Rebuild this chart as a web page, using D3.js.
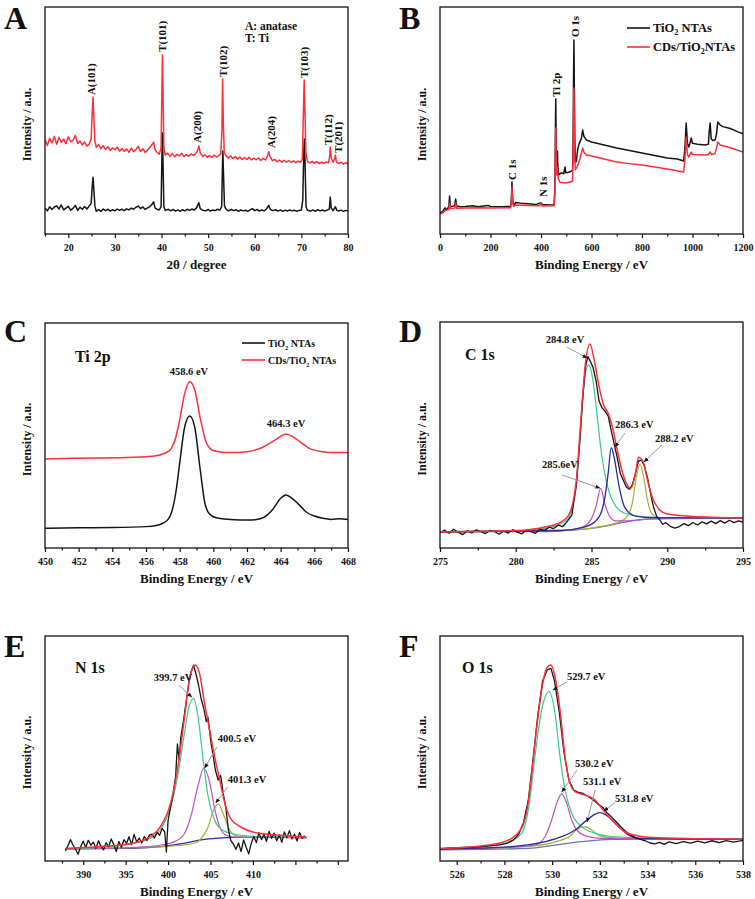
<!DOCTYPE html>
<html><head><meta charset="utf-8">
<script src="https://cdn.jsdelivr.net/npm/d3@7"></script>
<style>
body{margin:0;background:#fff}
svg{display:block}
text{font-family:"Liberation Serif","Times New Roman",serif;font-weight:bold;fill:#111}
</style>
</head><body>
<svg id="c" width="755" height="899"></svg>
<script>
// ===== Panel A: XRD =====
const xrdTicks = [20,30,40,50,60,70,80];
const xrdMinor = [15,25,35,45,55,65,75];
const xrdTiO2 = [[15,11.5],[15.5,10.2],[16,12.0],[16.5,10.8],[17,11.9],[17.5,12.4],[18,11.0],[18.5,12.8],[19,10.6],[19.5,11.4],[20,12.2],[20.5,10.5],[21,11.3],[21.5,12.6],[22,10.4],[22.5,11.8],[23,10.9],[23.5,12.1],[24,11.0],[24.5,12.4],[24.9,13.5],[25.1,20],[25.3,25],[25.5,19],[25.7,12.5],[26,10.0],[26.5,10.8],[27,9.9],[27.5,11.0],[28,10.3],[28.5,10.9],[29,10.1],[29.5,10.7],[30,10.2],[30.5,11.0],[31,10.4],[31.5,10.9],[32,10.3],[32.5,11.1],[33,10.6],[33.5,11.4],[34,10.9],[34.5,11.8],[35,12.3],[35.5,11.2],[36,11.9],[36.5,10.8],[37,11.5],[37.5,12.1],[38,13.2],[38.3,14.2],[38.6,11.5],[39,10.9],[39.5,10.6],[39.9,12],[40.05,30],[40.2,44.5],[40.35,28],[40.5,12],[40.8,10.4],[41.5,10.9],[42,10.2],[42.5,10.8],[43,10.1],[43.5,10.6],[44,10.0],[44.5,10.7],[45,10.2],[45.5,10.9],[46,10.4],[46.5,11.0],[47,10.6],[47.5,11.5],[48,13.8],[48.3,11.2],[48.8,10.5],[49.5,10.2],[50,10.8],[50.5,10.1],[51,10.6],[51.5,10.3],[52,10.9],[52.5,10.5],[52.9,12],[53.05,28],[53.15,36.6],[53.3,26],[53.5,12.5],[53.8,11.0],[54.3,10.2],[55,10.8],[55.5,10.3],[56,10.7],[56.5,10.0],[57,10.6],[57.5,10.2],[58,10.5],[58.5,10.0],[59,10.6],[59.5,11.2],[60,10.3],[60.5,10.8],[61,10.1],[61.5,10.6],[62,10.2],[62.5,11.0],[63,12.6],[63.3,11.0],[63.8,10.3],[64.5,10.7],[65,10.1],[65.5,10.6],[66,10.0],[66.5,10.5],[67,10.1],[67.5,10.6],[68,10.2],[68.5,10.5],[69,10.0],[69.5,10.4],[70,10.6],[70.3,15],[70.5,35],[70.65,41.9],[70.8,30],[71.0,12],[71.3,10.5],[72,10.1],[72.5,10.6],[73,10.0],[73.5,10.7],[74,10.2],[74.5,10.6],[75,10.1],[75.5,10.5],[76,11],[76.2,16.3],[76.4,11.5],[76.8,10.3],[77.3,12.0],[77.6,10.4],[78,10.1],[78.5,10.5],[79,10.0],[79.5,10.4],[80,10.1]];
const xrdCDs = [[15,41.5],[15.5,39.0],[16,42.2],[16.5,40.1],[17,43.0],[17.5,39.5],[18,42.6],[18.5,40.4],[19,41.8],[19.5,39.8],[20,42.8],[20.5,40.6],[21,41.2],[21.5,43.4],[22,39.9],[22.5,41.0],[23,39.2],[23.5,40.5],[24,38.7],[24.5,39.6],[24.9,42],[25.1,52],[25.3,60.4],[25.5,50],[25.7,41],[26,38.2],[26.5,39.4],[27,37.6],[27.5,38.9],[28,37.2],[28.5,38.5],[29,36.8],[29.5,38.0],[30,37.1],[30.5,38.3],[31,36.5],[31.5,37.7],[32,36.4],[32.5,37.5],[33,36.0],[33.5,37.8],[34,36.3],[34.5,37.2],[35,38.6],[35.5,36.4],[36,37.5],[36.5,35.9],[37,37.0],[37.5,38.2],[38,39.5],[38.3,40.5],[38.6,37.4],[39,36.0],[39.5,35.2],[39.9,38],[40.05,60],[40.2,78.9],[40.35,58],[40.5,38],[40.8,34.8],[41.3,35.7],[41.8,34.2],[42.3,35.4],[42.8,34.0],[43.3,35.1],[43.8,34.4],[44.3,35.6],[44.8,34.1],[45.3,35.0],[45.8,34.3],[46.3,35.2],[46.8,34.6],[47.3,35.3],[47.7,36.5],[48,38.8],[48.3,35.8],[48.8,34.2],[49.3,34.9],[49.8,33.8],[50.3,34.6],[50.8,33.7],[51.3,34.8],[51.8,33.9],[52.3,34.5],[52.7,35.5],[52.95,45],[53.1,68.3],[53.25,50],[53.45,36],[53.8,34.6],[54.3,33.4],[54.8,34.5],[55.3,33.2],[55.8,34.1],[56.3,33.0],[56.8,33.9],[57.3,32.8],[57.8,33.7],[58.3,32.9],[58.8,33.8],[59.3,32.6],[59.8,33.4],[60.3,32.7],[60.8,33.5],[61.3,32.4],[61.8,33.3],[62.3,32.6],[62.7,34.2],[63,36.2],[63.3,34.0],[63.8,32.3],[64.3,32.9],[64.8,31.8],[65.3,32.6],[65.8,31.7],[66.3,32.5],[66.8,31.6],[67.3,32.4],[67.8,31.5],[68.3,32.2],[68.8,31.4],[69.3,32.1],[69.8,31.6],[70.2,33],[70.45,55],[70.6,67.8],[70.75,56],[70.95,36],[71.3,32.0],[71.8,31.3],[72.3,32.0],[72.8,31.2],[73.3,31.9],[73.8,31.0],[74.3,31.7],[74.8,31.1],[75.3,31.8],[75.8,31.3],[76.05,34],[76.2,38.3],[76.4,33.5],[76.8,31.6],[77.1,33],[77.3,34.8],[77.5,31.8],[78,31.0],[78.5,31.6],[79,30.8],[79.5,31.4],[80,30.9]];
const xrdLabels = [["A(101)",24.9,61.2],["T(101)",40.1,80.2],["A(200)",47.6,40.1],["T(102)",53.2,69.2],["A(204)",63.5,37.9],["T(103)",70.6,68.7],["T(112)",75.7,39.2],["T(201)",77.9,35.7]];

// ===== Panel B: XPS survey =====
const surveyTicks = [0,200,400,600,800,1000,1200];
const surveyMinor = [100,300,500,700,900,1100];
const surveyTiO2 = [[0,9.5],[10,9.8],[20,11.5],[25,10.5],[35,12],[38,16.7],[41,12],[50,12.2],[58,12.5],[62,15.4],[66,12.3],[80,12.0],[100,12.1],[130,12.4],[150,12.0],[190,12.6],[200,12.1],[250,12.0],[280,12.2],[283,16],[285,22.9],[288,15],[292,12.4],[300,13.9],[320,13.6],[350,13.3],[380,13.0],[400,13.8],[405,13.0],[430,12.8],[452,12.9],[455,20],[457,45],[458.5,59.5],[460,40],[461,30],[463,28],[465,36.6],[467,29],[470,26],[480,27],[490,26.5],[495,29.5],[498,27],[510,27.2],[525,28],[527,40],[529,70],[530.5,85.5],[532,65],[534,42],[536,31.7],[540,32],[545,37],[550,39.5],[560,42],[565,45.8],[570,43],[580,41.4],[600,40.5],[650,39.2],[700,37.9],[750,36.8],[800,35.7],[850,34.6],[900,33.5],[940,33.0],[965,32.2],[970,38],[975,48.9],[980,40],[985,38.3],[990,40],[995,42.3],[1000,40],[1020,39.5],[1050,39.2],[1063,39.6],[1066,45],[1070,48.9],[1074,42],[1080,41.2],[1090,41.5],[1095,44],[1100,49.3],[1110,48],[1120,47.3],[1150,46.5],[1180,45],[1200,44.1]];
const surveyCDs = [[0,8.8],[10,9.2],[20,10.3],[35,10.8],[38,13.5],[41,11.2],[58,11.4],[62,13.7],[66,11.3],[100,11.5],[150,11.6],[200,11.4],[280,11.6],[283,15],[285,20.7],[288,13.5],[292,12.2],[300,12.8],[350,12.6],[395,12.4],[400,13.7],[405,12.3],[452,12.4],[455,18],[457,36],[458.5,46.7],[460,33],[462,26],[465,29.5],[468,24.5],[475,22.8],[500,22.5],[525,23.2],[527,35],[529,55],[530.5,64.3],[532,50],[534,33],[536,28.2],[545,30],[555,33.5],[565,37.9],[570,36],[580,34.8],[600,34.4],[650,33.0],[700,31.7],[750,31.0],[800,30.4],[850,29.5],[900,28.6],[965,27.3],[970,33],[975,42.7],[980,35],[985,33.9],[995,36.1],[1000,35],[1050,34.8],[1063,35],[1070,36.1],[1076,35],[1090,35.5],[1100,40.5],[1110,39.2],[1150,38],[1200,36.1]];
const surveyLabels = [["C 1s",285.1,23.8],["N 1s",407.9,16.3],["Ti 2p",459.4,60.3],["O 1s",534.7,86.8]];

// ===== Panel C: Ti 2p =====
const ti2pTicks = [450,452,454,456,458,460,462,464,466,468];
const ti2pMinor = [451,453,455,457,459,461,463,465,467];
const ti2pTiO2 = [[450,8.8],[452,9.0],[454,9.1],[456,9.5],[456.6,10.0],[457,11],[457.3,12.6],[457.5,15.4],[457.8,26],[458,37.6],[458.3,53.9],[458.6,58.7],[458.9,53.5],[459.2,36.1],[459.5,19.9],[459.7,15.8],[460,13.9],[460.5,13.0],[461,12.7],[462,12.4],[462.5,12.6],[463,13.6],[463.5,16.9],[464,22.1],[464.3,23.6],[464.8,21.3],[465.2,18.4],[465.5,16.1],[466,14.2],[466.5,13.2],[467,12.7],[467.5,13.0],[468,12.7]];
const ti2pCDs = [[450,39.6],[452,39.9],[454,40.1],[456,40.6],[456.6,41.0],[457,41.8],[457.3,42.8],[457.5,44.3],[457.8,50],[458,56.9],[458.3,68.7],[458.6,73.9],[458.9,70.2],[459.2,58.4],[459.6,46.5],[460,43.3],[460.5,42.6],[461,42.4],[462,42.8],[462.5,43.6],[463,45],[463.5,47.2],[464,49.6],[464.3,50.7],[464.7,49.6],[465,48],[465.4,45.8],[465.7,44.3],[466.5,42.8],[467.2,42.4],[468,42.5]];

// ===== Panel D: C 1s =====
const c1sTicks = [275,280,285,290,295];
const c1sMinor = [277.5,282.5,287.5,292.5];
const c1sRaw = [[275,6.8],[275.3,7.9],[275.6,6.5],[275.9,8.3],[276.2,7.0],[276.5,5.9],[276.8,7.6],[277.1,6.7],[277.4,8.0],[277.7,7.2],[278,6.4],[278.3,7.8],[278.6,7.3],[278.9,6.1],[279.2,7.5],[279.5,6.6],[279.8,8.1],[280.1,7.0],[280.4,6.3],[280.7,7.9],[281,7.2],[281.3,6.5],[281.6,8.4],[281.9,7.8],[282.2,9.2],[282.5,8.6],[282.8,10.1],[283.1,9.5],[283.4,11.8],[283.7,14.5],[284.0,28],[284.2,45],[284.4,65],[284.6,80],[284.75,84.7],[284.9,83],[285.1,80],[285.3,74],[285.5,65],[285.7,62],[285.9,60.5],[286.1,58.5],[286.3,52],[286.5,46],[286.7,40],[286.9,33],[287.1,30],[287.3,27],[287.5,26],[287.7,28],[287.9,33],[288.1,38.5],[288.3,38.9],[288.5,36],[288.7,31],[288.9,24],[289.1,18],[289.3,14],[289.5,12.5],[289.7,10.5],[289.9,11.2],[290.2,9.6],[290.5,8.8],[290.8,9.5],[291.1,10.8],[291.4,9.9],[291.7,11.3],[292,10.2],[292.3,11.6],[292.6,10.7],[292.9,11.9],[293.2,10.8],[293.5,12.1],[293.8,11.0],[294.1,12.3],[294.4,11.2],[294.7,12.0],[295,11.5]];
const c1sEnvelope = [[275,7.2],[280,7.7],[282,9.4],[283,11.6],[283.5,14.6],[284,30],[284.3,56.6],[284.6,81.7],[284.9,90.3],[285.2,82.4],[285.5,71.4],[285.8,63.3],[286.1,59.6],[286.4,53],[286.7,43.4],[287,34.5],[287.3,28.6],[287.6,26.4],[287.9,33],[288.1,40.1],[288.4,38.2],[288.7,30],[289,22.7],[289.5,16.8],[290,15],[292,13.8],[295,13.3]];
const c1sPeak1 = [[275,7.2],[280,7.6],[282,8.8],[283,10.8],[283.5,13.5],[284,28],[284.3,53],[284.55,75],[284.8,81],[285.05,76],[285.3,63],[285.6,45],[285.9,32],[286.2,24],[286.6,18.5],[287,16],[287.6,14.6],[288.5,13.8],[290,13.4],[295,13.2]];
const c1sPeak2 = [[275,7.2],[283,7.7],[284,8.5],[284.6,10],[285,13],[285.3,18.5],[285.6,26.4],[285.9,19],[286.2,14],[286.6,12],[287.2,12],[288,12.4],[289,12.9],[295,13.2]];
const c1sPeak3 = [[275,7.2],[283,7.7],[284.5,9.2],[285.2,11.5],[285.6,15],[285.9,23],[286.1,33],[286.3,44.4],[286.5,40],[286.8,28],[287.1,19.5],[287.5,15.5],[288,14],[289,13.4],[295,13.2]];
const c1sPeak4 = [[275,7.2],[284,8.2],[286,10],[287,12],[287.4,14.5],[287.7,20],[287.95,31],[288.2,37],[288.45,31],[288.7,21],[289,15],[289.4,13.5],[290,13.2],[295,13.2]];
const c1sBackground = [[275,7.2],[282,7.3],[283,7.6],[284,8.0],[285,8.7],[286,9.8],[287,11.2],[288,12.3],[289,12.9],[290,13.1],[295,13.2]];
// [label, textX, textY, arrowFromX, arrowFromY, arrowToX, arrowToY, anchor]
const c1sLabels = [["284.8 eV",283.25,90.7,283.38,88.9,284.7,84.1,"middle"],["286.3 eV",286.55,53.1,287.21,50.9,286.55,44.7,"start"],["288.2 eV",289.19,46.9,289.65,45.6,288.47,38.1,"start"],["285.6eV",281.73,35.4,283.05,32.3,285.56,26.5,"start"]];

// ===== Panel E: N 1s =====
const n1sTicks = [390,395,400,405,410,415,420];
const n1sMinor = [387.5,392.5,397.5,402.5,407.5,412.5,417.5];
const n1sRaw = [[387.9,4.5],[388.2,6.8],[388.5,9.5],[388.8,7.1],[389.1,5.2],[389.4,3.0],[389.7,6.4],[390.0,8.8],[390.3,6.0],[390.6,9.2],[390.9,7.0],[391.2,8.4],[391.5,5.6],[391.8,9.0],[392.1,6.5],[392.4,5.0],[392.7,8.1],[393.0,6.3],[393.3,9.8],[393.6,7.4],[393.9,4.2],[394.2,8.7],[394.5,6.1],[394.8,9.5],[395.1,7.8],[395.4,10.8],[395.7,7.3],[396.0,11.8],[396.3,8.5],[396.6,10.2],[396.9,8.0],[397.2,10.9],[397.5,9.1],[397.8,11.5],[398.1,12.0],[398.4,10.2],[398.7,12.8],[399.0,11.4],[399.3,14.5],[399.6,13],[399.8,4.0],[400.0,18],[400.3,24],[400.6,30],[400.9,38],[401.1,52],[401.3,45],[401.5,55],[401.8,62],[402.1,70],[402.4,78],[402.7,84],[403.0,87],[403.3,83],[403.6,78],[403.9,72],[404.2,68],[404.5,62],[404.7,64],[405.0,54],[405.3,47],[405.6,40],[405.9,36],[406.2,38],[406.5,30],[406.8,24],[407.1,14],[407.4,9],[407.7,7.5],[408.0,5.2],[408.3,8.0],[408.6,4.2],[408.9,9.4],[409.2,6.1],[409.5,3.2],[409.8,7.8],[410.1,10.9],[410.4,8.2],[410.7,12.6],[411.0,9.5],[411.3,11.8],[411.6,8.7],[411.9,13.2],[412.2,10.1],[412.5,12.4],[412.8,9.0],[413.1,11.6],[413.4,8.3],[413.7,12.9],[414.0,10.4],[414.3,13.5],[414.6,9.8],[414.9,11.9],[415.2,8.9],[415.5,12.7],[415.8,10.0],[416.1,11.3]];
const n1sEnvelope = [[387.9,5.6],[392,6.4],[395.9,7.9],[397.9,10.8],[399.1,15.3],[400.3,25.7],[401.1,40.4],[401.9,62.7],[402.5,80.4],[403.2,87.1],[403.7,83.4],[404.3,70],[404.9,58.1],[405.5,46.2],[406.1,35.8],[406.7,25.4],[407.4,18.7],[408.6,15],[410.2,12.7],[413.7,11.3],[416.3,10.5]];
const n1sPeak1 = [[387.9,5.3],[395,7.3],[397.9,10],[399.1,14],[400.3,24],[401.1,37],[401.9,56],[402.5,69],[403.0,72.3],[403.5,65],[404.1,46],[404.7,29],[405.5,18],[406.3,14],[407.8,12],[410.2,11],[416.3,10.5]];
const n1sPeak2 = [[387.9,5.4],[396,6],[399,7],[400.7,8.5],[401.9,12],[402.7,20],[403.5,33],[404.2,41.2],[404.9,35],[405.5,23],[406.1,15],[406.7,11.8],[407.8,10.6],[416.3,10.3]];
const n1sPeak3 = [[387.9,5.4],[400,6.5],[403.2,8],[403.9,10],[404.7,15],[405.3,22],[405.9,25.4],[406.5,21],[407.1,15],[407.8,11.5],[409,10.6],[416.3,10.4]];
const n1sBackground = [[387.9,5.4],[397,5.8],[400,6.8],[402.3,8.2],[403.9,9.4],[405.9,10.2],[407.8,10.5],[416.3,10.5]];
const n1sLabels = [["399.7 eV",398.32,80,401.26,78.2,402.79,72.9,"start"],["400.5 eV",405.85,52.9,405.74,50.7,404.32,41.3,"start"],["401.3 eV",407.03,34.7,407.03,32.9,405.62,25.8,"start"]];

// ===== Panel F: O 1s =====
const o1sTicks = [526,528,530,532,534,536,538];
const o1sMinor = [527,529,531,533,535,537];
const o1sRaw = [[525.3,5.4],[525.8,5.8],[526.3,6.0],[526.8,6.2],[527.3,6.6],[527.8,7.2],[528.1,7.8],[528.4,9.5],[528.6,12],[528.8,17],[529.0,27],[529.2,45],[529.4,65],[529.6,80],[529.8,85],[529.95,85.6],[530.1,80],[530.3,66],[530.5,48],[530.7,36],[530.9,31.5],[531.1,30.5],[531.3,30],[531.5,28.8],[531.7,27.3],[531.9,25.5],[532.1,24],[532.3,21.5],[532.5,19.5],[532.7,17.2],[532.9,15],[533.1,13],[533.3,11.5],[533.5,10.4],[533.7,9.6],[533.9,9.0],[534.1,8.0],[534.3,7.6],[534.5,8.3],[534.7,7.4],[534.9,8.5],[535.2,7.7],[535.5,8.6],[535.8,7.9],[536.1,8.8],[536.4,8.1],[536.7,9.0],[537.0,8.2],[537.3,9.1],[537.6,8.4],[538,9.2]];
const o1sEnvelope = [[525.3,5.6],[527,6.7],[528,8.6],[528.72,14.5],[529.0,26],[529.28,52.3],[529.56,76],[529.77,85.6],[529.95,87.1],[530.12,81.9],[530.33,67.1],[530.54,46.4],[530.75,34.5],[530.96,30.8],[531.38,29.3],[531.8,27.1],[532.08,23.4],[532.5,18.2],[533.05,13],[533.61,11.1],[534.17,10.4],[536,9.9],[538,9.7]];
const o1sPeak1 = [[525.3,5.6],[527,6.4],[528,7.9],[528.72,12.3],[529.0,22.7],[529.28,46.4],[529.56,67.1],[529.87,75.3],[530.12,65.6],[530.33,46.4],[530.54,31.6],[530.82,21.2],[531.24,15.3],[531.8,12.3],[532.5,10.9],[534.17,10.1],[538,9.7]];
const o1sPeak2 = [[525.3,5.2],[528.3,6.1],[529.28,7.1],[529.7,10.8],[529.98,18.2],[530.19,25.6],[530.4,29.8],[530.61,25.6],[530.82,18.2],[531.1,13],[531.52,10.8],[532.08,10.1],[538,9.8]];
const o1sPeak3 = [[525.3,5.2],[529,6.5],[530.68,10.5],[531.03,14],[531.38,15.3],[531.73,13.2],[532.08,10.8],[533,10],[538,9.8]];
const o1sPeak4 = [[525.3,5.2],[528.3,6.4],[529.7,8.6],[530.4,10.8],[530.96,13.8],[531.38,17.5],[531.73,20.4],[532.0,21.5],[532.36,19.7],[532.78,15.3],[533.2,11.6],[533.61,10.1],[538,9.6]];
const o1sBackground = [[525.3,4.9],[529.0,5.6],[530.12,7.1],[531.24,8.6],[532.5,9.6],[538,9.9]];
const o1sLabels = [["529.7 eV",530.62,80.4,530.62,79.6,530.04,76,"start"],["530.2 eV",530.96,41.8,531.04,40.4,530.41,30.7,"start"],["531.1 eV",531.29,33.8,531.8,31.6,531.46,17.3,"start"],["531.8 eV",532.63,26.2,532.63,25.8,532.17,22.2,"start"]];

// ===== colours =====
const C_BLACK = "#151515", C_RED = "#ff2e3a", C_GREEN = "#36cc8c", C_MAG = "#c24fc6", C_BLUE = "#2a2a9c", C_OLIVE = "#a3b336", C_BG = "#6f72ad";

const svg = d3.select("#c");
const defs = svg.append("defs");
defs.append("marker").attr("id","ah").attr("viewBox","0 0 10 10").attr("refX",9).attr("refY",5)
  .attr("markerWidth",5).attr("markerHeight",5).attr("orient","auto")
  .append("path").attr("d","M0,1L10,5L0,9z").attr("fill","#111");

function panel(cfg){
  const [bx0,bx1,by0,by1] = cfg.box;
  const x = d3.scaleLinear().domain(cfg.xDomain).range([bx0,bx1]);
  const y = d3.scaleLinear().domain([0,100]).range([by1,by0]);
  const g = svg.append("g");
  const cid = "clip"+cfg.letter;
  defs.append("clipPath").attr("id",cid).append("rect").attr("x",bx0).attr("y",by0).attr("width",bx1-bx0).attr("height",by1-by0);
  const plot = g.append("g").attr("clip-path",`url(#${cid})`);
  cfg.series.forEach(s=>{
    plot.append("path").datum(s.data).attr("fill","none").attr("stroke",s.color)
      .attr("stroke-width",s.w||1.3).attr("stroke-linejoin","round")
      .attr("d", d3.line().x(d=>x(d[0])).y(d=>y(d[1])).curve(s.smooth?d3.curveMonotoneX:d3.curveLinear));
  });
  const fmt = cfg.fmt || (v=>String(v));
  const axg = g.append("g").attr("transform",`translate(0,${by1})`)
    .call(d3.axisBottom(x).tickValues(cfg.ticks).tickFormat(fmt).tickSizeInner(4).tickSizeOuter(0).tickPadding(6));
  axg.select(".domain").remove();
  axg.selectAll("line").attr("stroke","#111").attr("stroke-width",1.2);
  axg.selectAll("text").attr("font-size",10).attr("fill","#111");
  const mig = g.append("g").attr("transform",`translate(0,${by1})`)
    .call(d3.axisBottom(x).tickValues(cfg.minor).tickFormat("").tickSizeInner(2.5).tickSizeOuter(0));
  mig.select(".domain").remove();
  mig.selectAll("line").attr("stroke","#111").attr("stroke-width",1.2);
  g.append("rect").attr("x",bx0).attr("y",by0).attr("width",bx1-bx0).attr("height",by1-by0)
    .attr("fill","none").attr("stroke","#111").attr("stroke-width",1.3);
  g.append("text").attr("x",(bx0+bx1)/2).attr("y",by1+35).attr("text-anchor","middle").attr("font-size",13).text(cfg.xTitle);
  g.append("text").attr("transform",`translate(${bx0-18},${(by0+by1)/2+4}) rotate(-90)`).attr("text-anchor","middle")
    .attr("dy","0.35em").attr("font-size",12).text("Intensity / a.u.");
  g.append("text").attr("x",bx0-41).attr("y",by0+cfg.letterDy).attr("font-size",32).text(cfg.letter);
  (cfg.rotLabels||[]).forEach(l=>{
    g.append("text").attr("transform",`translate(${x(l[1])},${y(l[2])}) rotate(-90)`).attr("dy","0.35em")
      .attr("font-size",cfg.rotSize||11).text(l[0]);
  });
  (cfg.arrowLabels||[]).forEach(l=>{
    g.append("line").attr("x1",x(l[3])).attr("y1",y(l[4])).attr("x2",x(l[5])).attr("y2",y(l[6]))
      .attr("stroke","#9a9a9a").attr("stroke-width",1).attr("marker-end","url(#ah)");
    g.append("text").attr("x",x(l[1])).attr("y",y(l[2])).attr("text-anchor",l[7]).attr("font-size",10.5).text(l[0]);
  });
  (cfg.plainLabels||[]).forEach(l=>{
    g.append("text").attr("x",x(l[1])).attr("y",y(l[2])).attr("text-anchor",l[3]||"start").attr("font-size",l[4]||10.5).text(l[0]);
  });
  if(cfg.legend){
    const L = cfg.legend;
    L.items.forEach((it,i)=>{
      const ly = by0 + L.y0 + i*L.dy;
      g.append("line").attr("x1",bx1-L.dx).attr("x2",bx1-L.dx+23).attr("y1",ly).attr("y2",ly).attr("stroke",it.color).attr("stroke-width",1.6);
      const t = g.append("text").attr("x",bx1-L.dx+26).attr("y",ly+4).attr("font-size",L.size);
      t.append("tspan").text(it.pre);
      t.append("tspan").attr("dy",3).attr("font-size",L.size*0.65).text("2");
      t.append("tspan").attr("dy",-3).text(it.post);
    });
  }
}

panel({letter:"A", box:[45,348,7,234], xDomain:[15,80], ticks:xrdTicks, minor:xrdMinor, xTitle:"2θ / degree", letterDy:22,
  series:[{data:xrdTiO2,color:C_BLACK,w:1.5},{data:xrdCDs,color:C_RED,w:1.5}],
  rotLabels:xrdLabels,
  plainLabels:[["A: anatase",57.9,89.9,"start",11.5],["T: Ti",57.9,84.6,"start",11.5]]});

panel({letter:"B", box:[440,743,7,234], xDomain:[0,1200], ticks:surveyTicks, minor:surveyMinor, xTitle:"Binding Energy / eV", letterDy:22,
  series:[{data:surveyTiO2,color:C_BLACK,w:1.5},{data:surveyCDs,color:C_RED,w:1.5}],
  rotLabels:surveyLabels,
  legend:{dx:116,y0:21,dy:19,size:12.5,items:[{color:C_BLACK,pre:"TiO",post:" NTAs"},{color:C_RED,pre:"CDs/TiO",post:"NTAs"}]}});

panel({letter:"C", box:[45,348,323,548], xDomain:[450,468], ticks:ti2pTicks, minor:ti2pMinor, xTitle:"Binding Energy / eV", letterDy:19,
  series:[{data:ti2pTiO2,color:C_BLACK,w:1.5,smooth:true},{data:ti2pCDs,color:C_RED,w:1.5,smooth:true}],
  plainLabels:[["Ti 2p",451.78,82.7,"start",16],["458.6 eV",458.55,76.9,"middle",10.5],["464.3 eV",464.32,53.8,"middle",10.5]],
  legend:{dx:106,y0:20,dy:17,size:10,items:[{color:C_BLACK,pre:"TiO",post:" NTAs"},{color:C_RED,pre:"CDs/TiO",post:" NTAs"}]}});

panel({letter:"D", box:[440,743,322,548], xDomain:[275,295], ticks:c1sTicks, minor:c1sMinor, xTitle:"Binding Energy / eV", letterDy:20,
  series:[{data:c1sBackground,color:C_BG,w:1.3,smooth:true},{data:c1sPeak4,color:C_OLIVE,w:1.2,smooth:true},{data:c1sPeak2,color:C_MAG,w:1.2,smooth:true},
          {data:c1sPeak1,color:C_GREEN,w:1.2,smooth:true},{data:c1sPeak3,color:C_BLUE,w:1.3,smooth:true},{data:c1sRaw,color:C_BLACK,w:1.3},{data:c1sEnvelope,color:C_RED,w:1.5,smooth:true}],
  plainLabels:[["C 1s",276.65,83.2,"start",16]],
  arrowLabels:c1sLabels});

panel({letter:"E", box:[45,348,636,861], xDomain:[385.5,421.2], ticks:n1sTicks, minor:n1sMinor, xTitle:"Binding Energy / eV", letterDy:21,
  fmt:v=>v<=410?String(v):"",
  series:[{data:n1sBackground,color:C_BLUE,w:1.3,smooth:true},{data:n1sPeak3,color:C_OLIVE,w:1.2,smooth:true},{data:n1sPeak2,color:C_MAG,w:1.2,smooth:true},
          {data:n1sPeak1,color:C_GREEN,w:1.2,smooth:true},{data:n1sRaw,color:C_BLACK,w:1.3},{data:n1sEnvelope,color:C_RED,w:1.5,smooth:true}],
  plainLabels:[["N 1s",389.03,83.6,"start",16]],
  arrowLabels:n1sLabels});

panel({letter:"F", box:[440,743,636,861], xDomain:[525.3,538], ticks:o1sTicks, minor:o1sMinor, xTitle:"Binding Energy / eV", letterDy:21,
  series:[{data:o1sBackground,color:C_BG,w:1.3,smooth:true},{data:o1sPeak3,color:C_OLIVE,w:1.2,smooth:true},{data:o1sPeak2,color:C_MAG,w:1.2,smooth:true},
          {data:o1sPeak1,color:C_GREEN,w:1.2,smooth:true},{data:o1sPeak4,color:C_BLUE,w:1.3,smooth:true},{data:o1sRaw,color:C_BLACK,w:1.3},{data:o1sEnvelope,color:C_RED,w:1.5,smooth:true}],
  plainLabels:[["O 1s",526.22,83.6,"start",16]],
  arrowLabels:o1sLabels});
</script>
</body></html>
